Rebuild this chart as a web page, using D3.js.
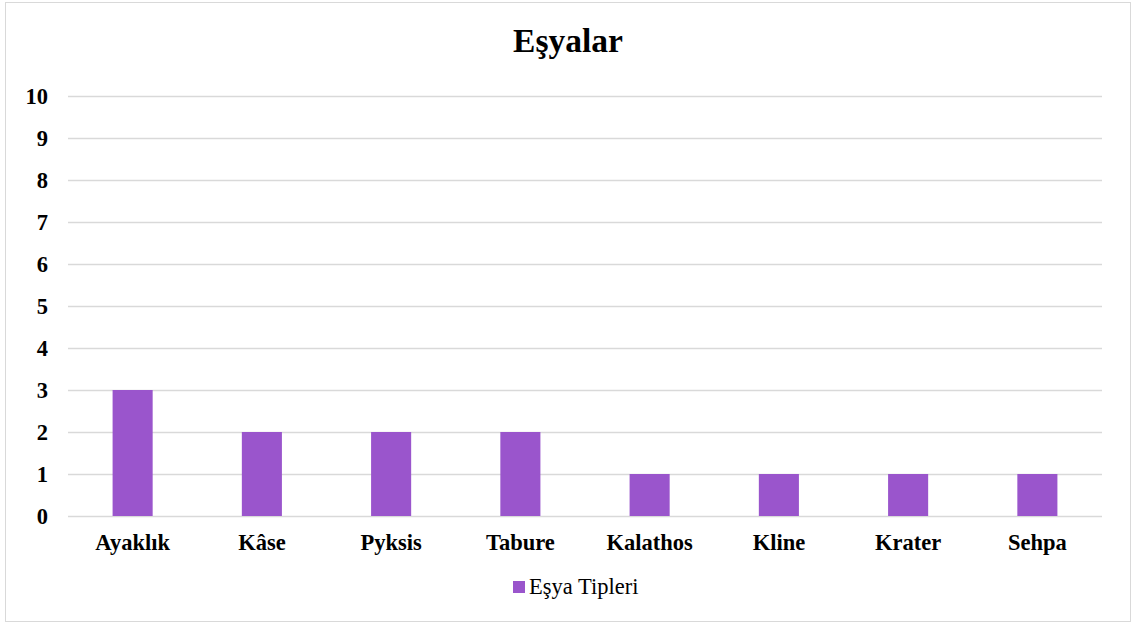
<!DOCTYPE html>
<html><head><meta charset="utf-8">
<script src="https://cdn.jsdelivr.net/npm/d3@7"></script>
<style>body{margin:0;background:#fff}svg{display:block}text{font-family:"Liberation Serif","Times New Roman",serif}</style>
</head><body>
<svg id="c" width="1134" height="625"></svg>
<script>
const categories = ["Ayaklık","Kâse","Pyksis","Tabure","Kalathos","Kline","Krater","Sehpa"];
const values = [3,2,2,2,1,1,1,1];
const yTicks = [0,1,2,3,4,5,6,7,8,9,10];
const seriesName = "Eşya Tipleri";
const title = "Eşyalar";
const color = "#9A55CC";

const svg = d3.select("#c");
svg.append("rect").attr("x",5.5).attr("y",2.5).attr("width",1125).attr("height",619)
  .attr("fill","#fff").attr("stroke","#d9d9d9").attr("stroke-width",1);

const x = d3.scaleBand().domain(categories).range([68,1102]).paddingInner(0.69).paddingOuter(0.345);
const y = d3.scaleLinear().domain([0,10]).range([516,96]);

svg.append("text").attr("x",568).attr("y",52).attr("text-anchor","middle")
  .attr("font-size",33.5).attr("font-weight","bold").text(title);

const grid = svg.append("g");
grid.selectAll("line").data(yTicks).join("line")
  .attr("x1",68).attr("x2",1102).attr("y1",d=>Math.round(y(d))+0.5).attr("y2",d=>Math.round(y(d))+0.5)
  .attr("stroke","#d9d9d9").attr("stroke-width",1.3);

const yAxis = svg.append("g").attr("transform","translate(68,0)")
  .call(d3.axisLeft(y).tickValues(yTicks).tickSize(0).tickPadding(20));
yAxis.select(".domain").remove();
yAxis.selectAll("text").attr("font-size",22.5).attr("font-weight","bold").attr("fill","#000")
  .style("font-family",'"Liberation Serif",serif');

svg.append("g").selectAll("rect").data(values).join("rect")
  .attr("x",(d,i)=>x(categories[i])).attr("width",x.bandwidth())
  .attr("y",d=>y(d)).attr("height",d=>y(0)-y(d)).attr("fill",color);

const xAxis = svg.append("g").attr("transform","translate(0,516)")
  .call(d3.axisBottom(x).tickSize(0).tickPadding(18));
xAxis.select(".domain").remove();
xAxis.selectAll("text").attr("font-size",22.5).attr("font-weight","bold").attr("fill","#000")
  .style("font-family",'"Liberation Serif",serif');

const lg = svg.append("g");
lg.append("rect").attr("x",513).attr("y",581).attr("width",12).attr("height",12).attr("fill",color);
lg.append("text").attr("x",529).attr("y",594).attr("font-size",22.5).attr("fill","#000").text(seriesName);
</script>
</body></html>
